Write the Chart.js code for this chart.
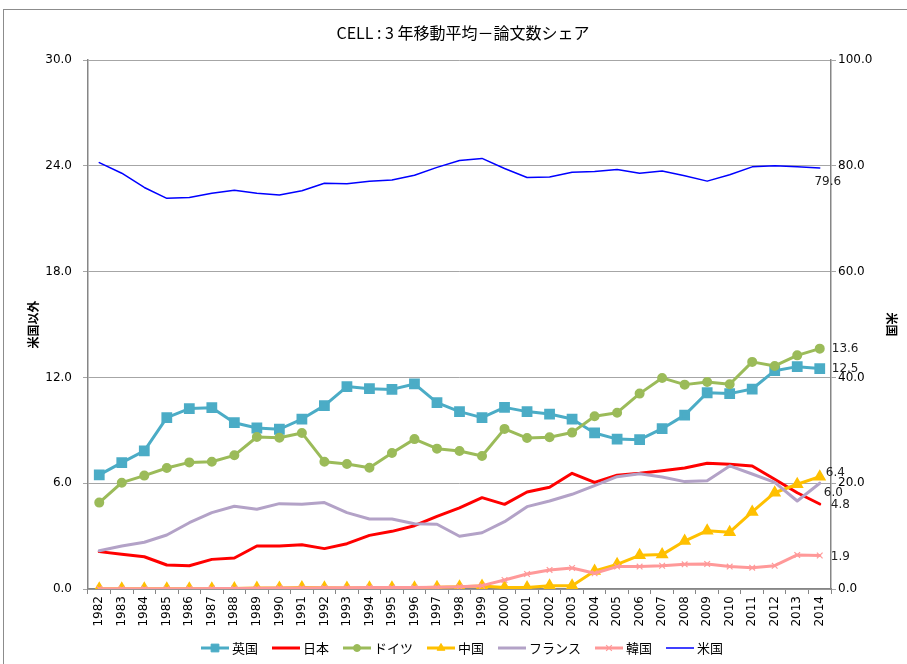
<!DOCTYPE html>
<html>
<head>
<meta charset="utf-8">
<title>CELL 論文数シェア</title>
<script src="https://cdn.jsdelivr.net/npm/chart.js@4.4.0/dist/chart.umd.min.js"></script>
<style>
  html, body { margin: 0; padding: 0; background: #fff; }
  #wrap { width: 907px; height: 664px; position: relative; }
</style>
</head>
<body>
<div id="wrap"><canvas id="chart" width="907" height="664"></canvas></div>
<script>
// Data (3-year moving average share, %)
const years = ['1982', '1983', '1984', '1985', '1986', '1987', '1988', '1989', '1990', '1991', '1992',
               '1993', '1994', '1995', '1996', '1997', '1998', '1999', '2000', '2001', '2002', '2003',
               '2004', '2005', '2006', '2007', '2008', '2009', '2010', '2011', '2012', '2013', '2014'];

const uk = [6.47, 7.17, 7.83, 9.72, 10.23, 10.28, 9.43, 9.13, 9.06, 9.64, 10.4,
            11.48, 11.36, 11.32, 11.63, 10.57, 10.06, 9.72, 10.3, 10.06, 9.92, 9.64,
            8.85, 8.5, 8.47, 9.09, 9.86, 11.13, 11.08, 11.34, 12.38, 12.61, 12.5];
const japan = [2.12, 1.97, 1.83, 1.36, 1.32, 1.68, 1.76, 2.44, 2.44, 2.51, 2.29,
               2.57, 3.04, 3.27, 3.59, 4.12, 4.6, 5.18, 4.8, 5.5, 5.77, 6.56,
               6.05, 6.45, 6.56, 6.71, 6.86, 7.13, 7.07, 6.98, 6.22, 5.46, 4.82];
const germany = [4.9, 6.03, 6.43, 6.86, 7.18, 7.22, 7.58, 8.62, 8.58, 8.85, 7.22,
                 7.09, 6.88, 7.71, 8.5, 7.96, 7.83, 7.54, 9.08, 8.56, 8.61, 8.87,
                 9.8, 10.0, 11.08, 11.97, 11.59, 11.74, 11.61, 12.88, 12.65, 13.25, 13.63];
const china = [0.02, 0.02, 0.02, 0.02, 0.02, 0.02, 0.03, 0.05, 0.06, 0.08, 0.07,
               0.06, 0.07, 0.07, 0.07, 0.1, 0.13, 0.17, 0.08, 0.08, 0.19, 0.19,
               1.02, 1.4, 1.91, 1.95, 2.72, 3.31, 3.22, 4.37, 5.46, 5.94, 6.37];
const france = [2.17, 2.44, 2.65, 3.06, 3.76, 4.33, 4.69, 4.52, 4.84, 4.8, 4.9,
                4.33, 3.97, 3.97, 3.7, 3.67, 2.99, 3.19, 3.82, 4.67, 4.99, 5.37,
                5.86, 6.37, 6.54, 6.35, 6.09, 6.14, 6.98, 6.52, 6.05, 4.99, 6.0];
const korea = [0.02, 0.02, 0.02, 0.02, 0.02, 0.03, 0.03, 0.04, 0.05, 0.06, 0.07,
               0.07, 0.08, 0.08, 0.09, 0.1, 0.13, 0.19, 0.51, 0.85, 1.08, 1.19,
               0.89, 1.27, 1.27, 1.32, 1.4, 1.42, 1.27, 1.21, 1.32, 1.93, 1.9];
const usa = [80.6, 78.6, 75.9, 73.85, 74.0, 74.8, 75.4, 74.8, 74.5, 75.3, 76.7,
             76.6, 77.1, 77.3, 78.2, 79.7, 81.0, 81.4, 79.5, 77.8, 77.9, 78.8,
             78.9, 79.3, 78.6, 79.0, 78.1, 77.1, 78.3, 79.8, 80.0, 79.8, 79.6];

const leftTicks = [0, 6, 12, 18, 24, 30];
const rightTicks = [0, 20, 40, 60, 80, 100];

const TICK_FONT = { family: '"DejaVu Sans", sans-serif', size: 12 };
const CJK = '"Noto Sans CJK JP", sans-serif';

// one line series (Excel-like look)
function series(label, data, color, opts) {
    return Object.assign({
        label: label,
        data: data,
        borderColor: color,
        backgroundColor: color,
        pointBackgroundColor: color,
        pointBorderColor: color,
        borderWidth: 3,
        pointRadius: 0,
        pointStyle: 'circle',
        tension: 0,
        yAxisID: 'y'
    }, opts || {});
}

const datasets = [
    series('英国', uk, '#4BACC6', { pointStyle: 'rect', pointRadius: 5.5, order: 7 }),
    series('日本', japan, '#FF0000', { order: 6 }),
    series('ドイツ', germany, '#9BBB59', { pointRadius: 3.5, order: 5 }),
    series('中国', china, '#FFC000', { pointStyle: 'triangle', pointRadius: 4.5, order: 4 }),
    series('フランス', france, '#B3A2C7', { order: 3 }),
    series('韓国', korea, '#FF9999', { pointStyle: 'crossRot', pointRadius: 4, pointBorderWidth: 1.2, order: 2 }),
    series('米国', usa, '#0000FF', { borderWidth: 1.5, yAxisID: 'y2', order: 1 })
];

// where the last value is written, relative to the last point
const endLabelOffsets = {
    '英国': [12, 0, 'left'],
    '日本': [11, 1, 'left'],
    'ドイツ': [12, 0, 'left'],
    '中国': [6, -4, 'left'],
    'フランス': [4, 10, 'left'],
    '韓国': [11, 1, 'left'],
    '米国': [8, 14, 'center']
};

// frame, title, end labels and legend
const decorations = {
    id: 'decorations',
    beforeDraw(chart) {
        const ctx = chart.ctx;
        ctx.save();
        ctx.fillStyle = '#fff';
        ctx.fillRect(0, 0, chart.width, chart.height);
        ctx.strokeStyle = '#8c8c8c';
        ctx.lineWidth = 1;
        ctx.strokeRect(3.5, 9.5, 1000, 1000);
        ctx.restore();
    },
    afterDraw(chart) {
        const ctx = chart.ctx;
        ctx.save();

        // title
        ctx.fillStyle = '#000';
        ctx.font = '16px ' + CJK;
        ctx.textAlign = 'center';
        ctx.textBaseline = 'middle';
        ctx.fillText('CELL : 3 年移動平均－論文数シェア', 463, 33);

        // values at the end of each line
        ctx.font = '12px "DejaVu Sans", sans-serif';
        ctx.fillStyle = '#222';
        chart.data.datasets.forEach((ds, i) => {
            const meta = chart.getDatasetMeta(i);
            const pt = meta.data[meta.data.length - 1];
            const off = endLabelOffsets[ds.label];
            ctx.textAlign = off[2];
            ctx.fillText(ds.data[ds.data.length - 1].toFixed(1), pt.x + off[0], pt.y + off[1]);
        });

        // legend (line + marker, like Excel)
        ctx.font = '13px ' + CJK;
        ctx.textAlign = 'left';
        const lineLen = 28, gap = 3, spacing = 14;
        const widths = chart.data.datasets.map(ds => lineLen + gap + ctx.measureText(ds.label).width);
        const total = widths.reduce((a, b) => a + b, 0) + spacing * (widths.length - 1);
        let x = 462 - total / 2;
        const y = 648;
        chart.data.datasets.forEach((ds, i) => {
            ctx.strokeStyle = ds.borderColor;
            ctx.lineWidth = ds.borderWidth;
            ctx.beginPath();
            ctx.moveTo(x, y);
            ctx.lineTo(x + lineLen, y);
            ctx.stroke();
            if (ds.pointRadius > 0) {
                ctx.fillStyle = ds.pointBackgroundColor;
                ctx.strokeStyle = ds.pointBorderColor;
                ctx.lineWidth = ds.pointBorderWidth || 1;
                Chart.helpers.drawPoint(ctx, {
                    pointStyle: ds.pointStyle,
                    radius: ds.pointRadius,
                    rotation: 0,
                    borderWidth: ds.pointBorderWidth || 1
                }, x + lineLen / 2, y);
            }
            ctx.fillStyle = '#000';
            ctx.fillText(ds.label, x + lineLen + gap, y);
            x += widths[i] + spacing;
        });
        ctx.restore();
    }
};

const ctx = document.getElementById('chart').getContext('2d');
const chart = new Chart(ctx, {
    type: 'line',
    data: { labels: years, datasets: datasets },
    plugins: [decorations],
    options: {
        responsive: false,
        animation: false,
        devicePixelRatio: 1,
        layout: { padding: { top: 60, bottom: 30, left: 0, right: 0 } },
        plugins: {
            legend: { display: false },
            title: { display: false },
            tooltip: { enabled: false }
        },
        elements: { line: { borderCapStyle: 'round', borderJoinStyle: 'round' } },
        scales: {
            x: {
                offset: true,
                grid: { offset: true, drawOnChartArea: false, drawTicks: true, tickLength: 5, color: '#868686' },
                border: { color: '#868686', width: 1.5 },
                ticks: { autoSkip: false, maxRotation: 90, minRotation: 90, padding: 2, color: '#000', font: TICK_FONT },
                afterFit(s) { s.height = 45; }
            },
            y: {
                position: 'left',
                min: 0,
                max: 30,
                afterBuildTicks(s) { s.ticks = leftTicks.map(v => ({ value: v })); },
                ticks: { padding: 11, color: '#000', font: TICK_FONT, callback: v => Number(v).toFixed(1) },
                grid: { color: '#a6a6a6', lineWidth: 1, tickLength: 5 },
                border: { color: '#868686', width: 1.5 },
                title: { display: true, text: '米国以外', color: '#000',
                         font: { family: CJK, size: 12, weight: 'bold' }, padding: { top: 26, bottom: 0 } },
                afterFit(s) { s.width = 88; }
            },
            y2: {
                position: 'right',
                min: 0,
                max: 100,
                afterBuildTicks(s) { s.ticks = rightTicks.map(v => ({ value: v })); },
                ticks: { padding: 2, color: '#000', font: TICK_FONT, callback: v => Number(v).toFixed(1) },
                grid: { drawOnChartArea: false, tickLength: 5, color: '#a6a6a6' },
                border: { color: '#868686', width: 1.5 },
                title: { display: true, text: '米国', color: '#000',
                         font: { family: CJK, size: 12, weight: 'bold' }, padding: { top: 8, bottom: 0 } },
                afterFit(s) { s.width = 76; }
            }
        }
    }
});
</script>
</body>
</html>
